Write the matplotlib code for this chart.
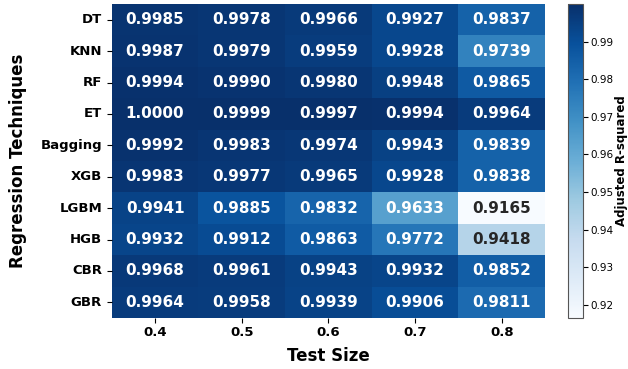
import matplotlib
matplotlib.use('Agg')
import matplotlib.pyplot as plt
import numpy as np
import pandas as pd
import seaborn as sns

# modelos de regresión y tamaños de prueba
models = ['DT', 'KNN', 'RF', 'ET', 'Bagging', 'XGB', 'LGBM', 'HGB', 'CBR', 'GBR']
test_sizes = ['0.4', '0.5', '0.6', '0.7', '0.8']

# R² ajustado de cada modelo por tamaño de prueba
r2_dt = [0.9985, 0.9978, 0.9966, 0.9927, 0.9837]
r2_knn = [0.9987, 0.9979, 0.9959, 0.9928, 0.9739]
r2_rf = [0.9994, 0.9990, 0.9980, 0.9948, 0.9865]
r2_et = [1.0000, 0.9999, 0.9997, 0.9994, 0.9964]
r2_bagging = [0.9992, 0.9983, 0.9974, 0.9943, 0.9839]
r2_xgb = [0.9983, 0.9977, 0.9965, 0.9928, 0.9838]
r2_lgbm = [0.9941, 0.9885, 0.9832, 0.9633, 0.9165]
r2_hgb = [0.9932, 0.9912, 0.9863, 0.9772, 0.9418]
r2_cbr = [0.9968, 0.9961, 0.9943, 0.9932, 0.9852]
r2_gbr = [0.9964, 0.9958, 0.9939, 0.9906, 0.9811]

df = pd.DataFrame([r2_dt, r2_knn, r2_rf, r2_et, r2_bagging, r2_xgb,
                   r2_lgbm, r2_hgb, r2_cbr, r2_gbr],
                  index=models, columns=test_sizes)

fig = plt.figure(figsize=(6.28, 3.69), dpi=100)
ax = fig.add_axes([0.178, 0.138, 0.690, 0.851])
cax = fig.add_axes([0.905, 0.138, 0.023, 0.851])

sns.heatmap(df, ax=ax, cbar_ax=cax, cmap='Blues', annot=True, fmt='.4f',
            annot_kws={'fontsize': 11, 'fontweight': 'bold'})

ax.set_xlabel('Test Size', fontsize=12, fontweight='bold', labelpad=6)
ax.set_ylabel('Regression Techniques', fontsize=12, fontweight='bold', labelpad=10)
ax.set_xticklabels(test_sizes, fontsize=9.5, fontweight='bold', rotation=0)
ax.set_yticklabels(models, fontsize=9.5, fontweight='bold', rotation=0)
ax.tick_params(axis='x', pad=2)

cb = ax.collections[0].colorbar
cb.outline.set_linewidth(0.8)
cb.outline.set_edgecolor('#555555')
cb.set_ticks([0.92, 0.93, 0.94, 0.95, 0.96, 0.97, 0.98, 0.99])
cb.ax.tick_params(labelsize=7.5, pad=2)
cb.set_label('Adjusted R-squared', fontsize=8.5, fontweight='bold', labelpad=1)

fig.savefig('out.png', dpi=100)
plt.close(fig)
